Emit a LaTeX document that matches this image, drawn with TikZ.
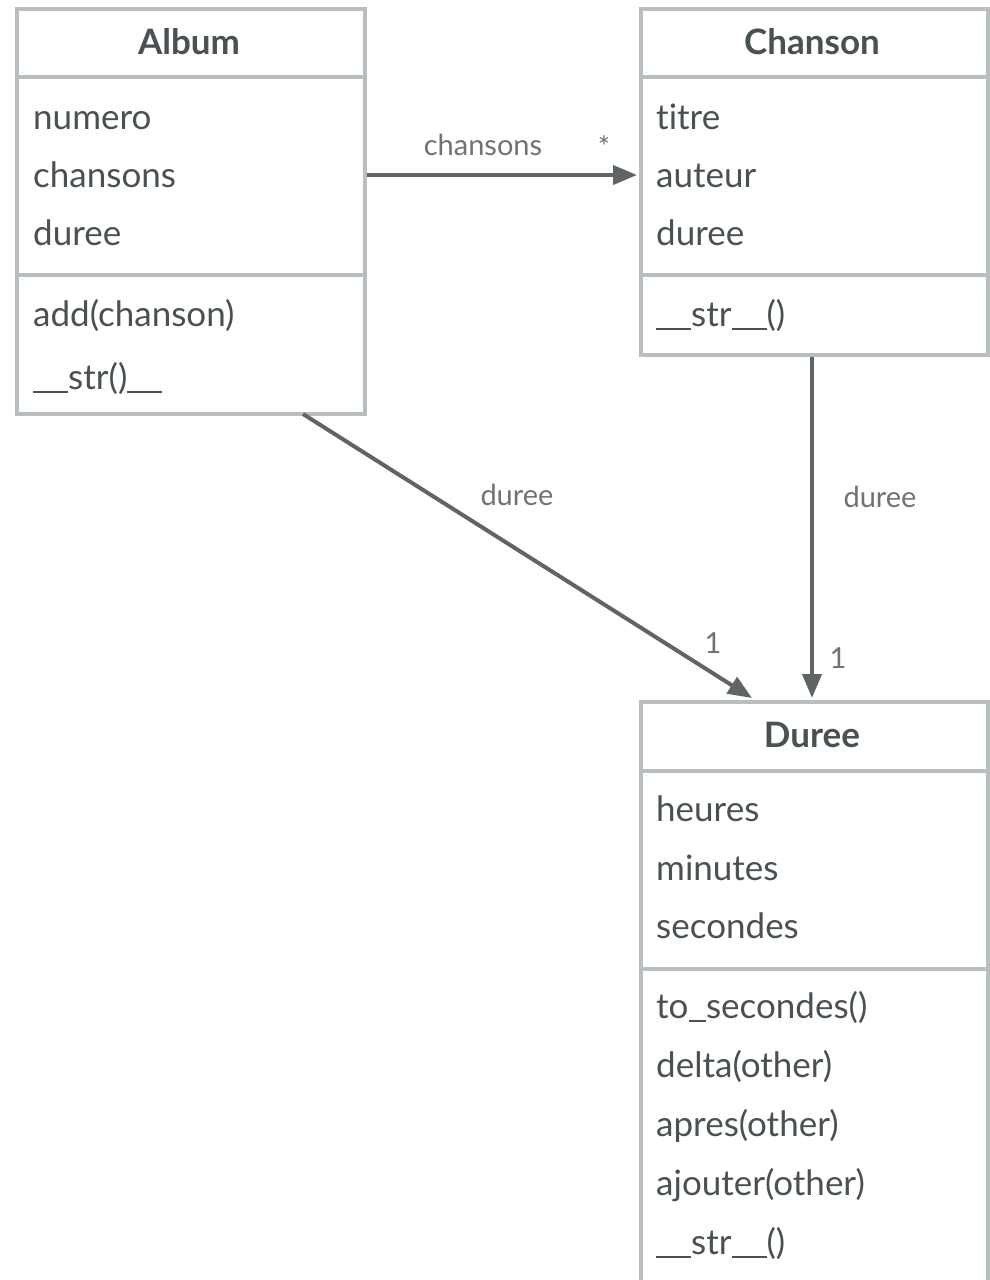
\documentclass[tikz,border=0pt]{standalone}
\usepackage{fontspec}
\setmainfont{Lato}[Ligatures=NoCommon]
\usetikzlibrary{arrows.meta}
\definecolor{boxline}{HTML}{B9BEC0}
\definecolor{txt}{HTML}{4A5152}
\definecolor{arr}{HTML}{5F6565}
\definecolor{lbl}{HTML}{6E7374}
\newcommand{\us}{\rule[-0.12em]{0.5em}{0.06em}}
\tikzset{
  comp/.style={draw=boxline, line width=4pt, fill=white, anchor=north west, inner sep=0pt, minimum width=#1},
  title/.style={font=\fontsize{35}{40}\selectfont\bfseries, text=txt, anchor=center},
  item/.style={font=\fontsize{35}{40}\selectfont, text=txt, anchor=base west, inner sep=0pt},
  lab/.style={font=\fontsize{29}{34}\selectfont, text=lbl, anchor=center, inner sep=0pt},
  conn/.style={draw=arr, line width=4pt, -{Triangle[length=24pt,width=19pt]}},
}
\begin{document}
\begin{tikzpicture}[x=1pt,y=-1pt]
\useasboundingbox (0,0) rectangle (990,1280);
% Album
\node[comp=348pt, minimum height=68pt] (albH) at (15,7) {};
\node[comp=348pt, minimum height=198pt] (albA) at (15,75) {};
\node[comp=348pt, minimum height=139pt] (albM) at (15,273) {};
\node[title] (albT) at (189,42) {Album};
\node[item] (alb1) at (33,129) {numero};
\node[item] (alb2) at (33,187) {chansons};
\node[item] (alb3) at (33,245) {duree};
\node[item] (alb4) at (33,326) {add(chanson)};
\node[item] (alb5) at (33,389) {\us\us str()\us\us};
% Chanson
\node[comp=347pt, minimum height=68pt] (chH) at (639,7) {};
\node[comp=347pt, minimum height=198pt] (chA) at (639,75) {};
\node[comp=347pt, minimum height=80pt] (chM) at (639,273) {};
\node[title] (chT) at (812,42) {Chanson};
\node[item] (ch1) at (656,129) {titre};
\node[item] (ch2) at (656,187) {auteur};
\node[item] (ch3) at (656,245) {duree};
\node[item] (ch4) at (656,326) {\us\us str\us\us()};
% Duree
\node[comp=347pt, minimum height=69pt] (duH) at (639,700) {};
\node[comp=347pt, minimum height=198pt] (duA) at (639,769) {};
\node[comp=347pt, minimum height=316pt] (duM) at (639,967) {};
\node[title] (duT) at (812,735) {Duree};
\node[item] (du1) at (656,821) {heures};
\node[item] (du2) at (656,880) {minutes};
\node[item] (du3) at (656,938) {secondes};
\node[item] (du4) at (656,1018) {to\us secondes()};
\node[item] (du5) at (656,1077) {delta(other)};
\node[item] (du6) at (656,1136) {apres(other)};
\node[item] (du7) at (656,1195) {ajouter(other)};
\node[item] (du8) at (656,1254) {\us\us str\us\us()};
% connectors
\coordinate (c1s) at (albA.east |- 0,175);
\coordinate (c1e) at (637,175);
\draw[conn] (c1s) -- (c1e);
\node[lab] (l1) at (483,145) {chansons};
\node[lab] (l1m) at (604,147) {*};
\coordinate (c2s) at (chM.south -| 812,0);
\coordinate (c2e) at (812,698);
\draw[conn] (c2s) -- (c2e);
\node[lab] (l2) at (880,497) {duree};
\node[lab] (l2m) at (838,658) {1};
\coordinate (c3s) at (303,414);
\coordinate (c3e) at (752,698);
\draw[conn] (c3s) -- (c3e);
\node[lab] (l3) at (517,495) {duree};
\node[lab] (l3m) at (713,643) {1};
\end{tikzpicture}
\end{document}
